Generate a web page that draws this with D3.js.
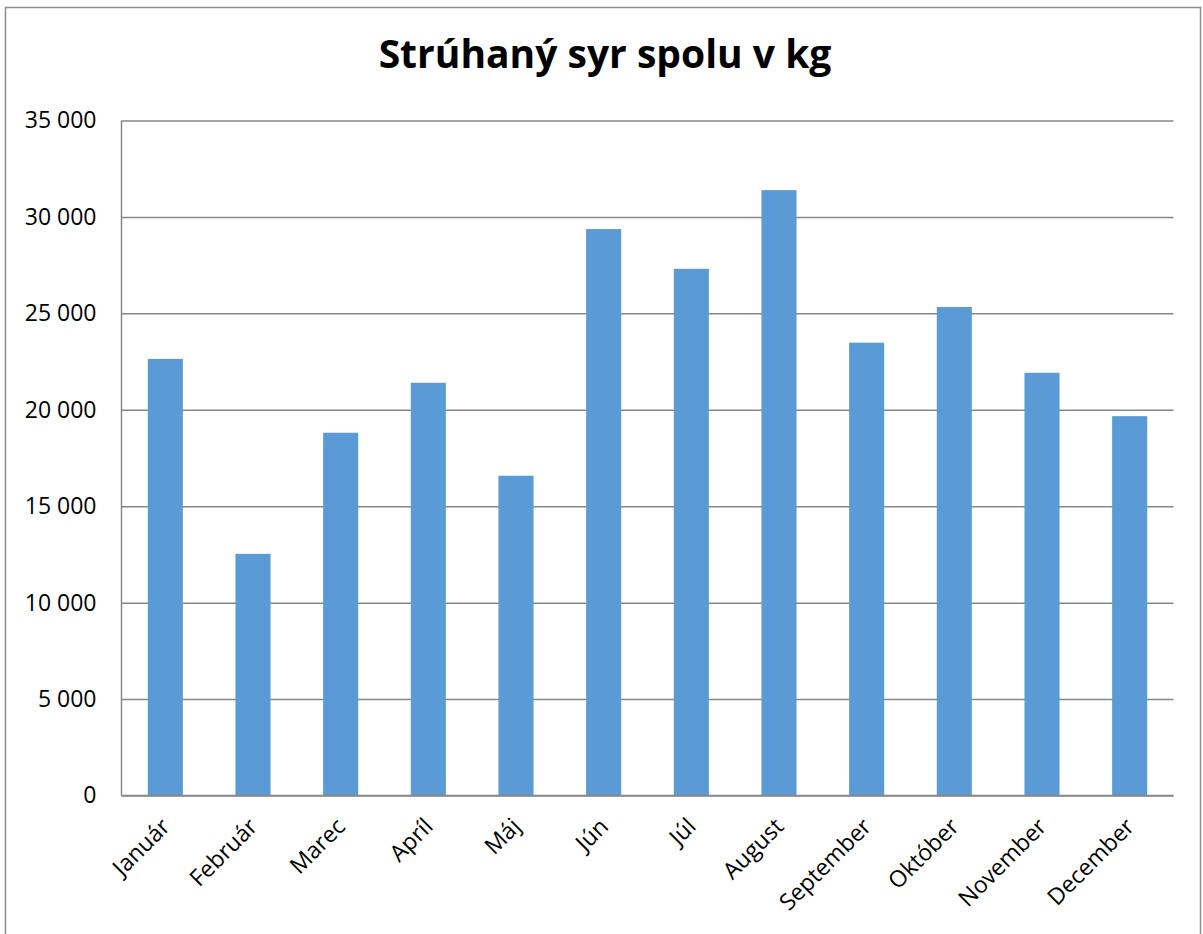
<!DOCTYPE html>
<html>
<head>
<meta charset="utf-8">
<script src="https://cdn.jsdelivr.net/npm/d3@7"></script>
<style>
  body { margin: 0; background: #fff; }
  svg text { font-family: 'Open Sans', sans-serif; fill: #000; }
</style>
</head>
<body>
<div id="chart"></div>
<script>
const title = 'Strúhaný syr spolu v kg'
const months = ['Január', 'Február', 'Marec', 'Apríl', 'Máj', 'Jún', 'Júl', 'August', 'September', 'Október', 'November', 'December']
const values = [22640, 12530, 18810, 21400, 16580, 29370, 27310, 31390, 23480, 25330, 21920, 19670]
const yTicks = [0, 5000, 10000, 15000, 20000, 25000, 30000, 35000]

const width = 1203
const height = 934
const plot = { left: 121.5, right: 1173.5, top: 120.5, bottom: 795.5 }

const svg = d3.select('#chart')
  .append('svg')
  .attr('width', width)
  .attr('height', height)

// chart frame
svg.append('rect')
  .attr('x', 5.5)
  .attr('y', 7.5)
  .attr('width', 1195)
  .attr('height', 940)
  .attr('fill', '#fff')
  .attr('stroke', '#8c8c8c')
  .attr('stroke-width', 1.5)

svg.append('text')
  .attr('x', 605)
  .attr('y', 68)
  .attr('text-anchor', 'middle')
  .style('font-size', '39px')
  .style('font-weight', 'bold')
  .text(title)

const x = d3.scaleBand()
  .domain(months)
  .range([plot.left, plot.right])
  .paddingInner(0.6)
  .paddingOuter(0.3)

const y = d3.scaleLinear()
  .domain([0, 35000])
  .range([plot.bottom, plot.top])

const fmt = d3.formatLocale({ decimal: ',', thousands: ' ', grouping: [3], currency: ['', ''] }).format(',d')

// y axis + gridlines
const yAxis = svg.append('g')
  .attr('transform', `translate(${plot.left},0)`)
  .call(d3.axisLeft(y).tickValues(yTicks).tickFormat(fmt).tickSize(-(plot.right - plot.left)).tickPadding(25))
yAxis.select('.domain').remove()
yAxis.selectAll('.tick line').attr('stroke', '#878787').attr('stroke-width', 1.5)
yAxis.selectAll('.tick text').style('font-size', '23px').attr('fill', '#000')

svg.append('line')
  .attr('x1', plot.left).attr('x2', plot.left)
  .attr('y1', plot.top).attr('y2', plot.bottom)
  .attr('stroke', '#878787').attr('stroke-width', 1.5)

// bars
svg.append('g')
  .selectAll('rect')
  .data(months)
  .join('rect')
  .attr('x', (d) => x(d))
  .attr('width', x.bandwidth())
  .attr('y', (d, i) => y(values[i]))
  .attr('height', (d, i) => y(0) - y(values[i]))
  .attr('fill', '#5b9bd5')

// x axis line
svg.append('line')
  .attr('x1', plot.left).attr('x2', plot.right)
  .attr('y1', plot.bottom).attr('y2', plot.bottom)
  .attr('stroke', '#878787').attr('stroke-width', 1.5)

// month labels, rotated
svg.append('g')
  .selectAll('text')
  .data(months)
  .join('text')
  .attr('transform', (d) => `translate(${x(d) + x.bandwidth() / 2 + 6},828) rotate(-45)`)
  .attr('text-anchor', 'end')
  .style('font-size', '23px')
  .text((d) => d)
</script>
</body>
</html>
